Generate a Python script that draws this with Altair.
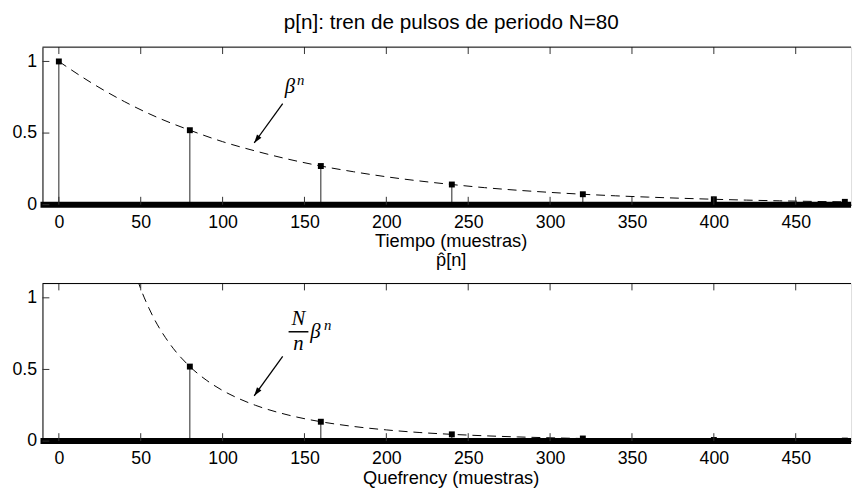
import altair as alt
import pandas as pd

# ---- data ----
x_ticks = [0, 50, 100, 150, 200, 250, 300, 350, 400, 450]
y_ticks = [0, 0.5, 1]

# top panel: impulse train p[n]
top_n = [0, 80, 160, 240, 320, 400, 480]
top_v = [1.0, 0.52, 0.27, 0.141, 0.073, 0.038, 0.020]
# dashed envelope beta^n
env_top_n = [0, 20, 40, 60, 80, 100, 120, 140, 160, 180, 200, 220, 240, 260, 280,
             300, 320, 340, 360, 380, 400, 420, 440, 460, 480]
env_top_v = [1.0, 0.85, 0.72, 0.61, 0.52, 0.44, 0.375, 0.318, 0.27, 0.23, 0.195, 0.166,
             0.141, 0.119, 0.101, 0.086, 0.073, 0.062, 0.053, 0.045, 0.038, 0.032, 0.027,
             0.023, 0.020]

# bottom panel: complex cepstrum p^[n]
bot_n = [80, 160, 240, 320, 400, 480]
bot_v = [0.52, 0.135, 0.047, 0.018, 0.0076, 0.0033]
# dashed envelope (N/n) beta^n
env_bot_n = [48, 50, 55, 60, 65, 70, 80, 90, 100, 110, 120, 140, 160, 180, 200, 220, 240,
             260, 280, 300, 320, 340, 360, 380, 400, 440, 480]
env_bot_v = [1.126, 1.063, 0.928, 0.816, 0.724, 0.645, 0.52, 0.426, 0.353, 0.296, 0.25,
             0.182, 0.135, 0.102, 0.078, 0.060, 0.047, 0.037, 0.029, 0.023, 0.018, 0.015,
             0.012, 0.0095, 0.0076, 0.005, 0.0033]

titles = ["p[n]: tren de pulsos de periodo N=80", "p\u0302[n]"]
xlabels = ["Tiempo (muestras)", "Quefrency (muestras)"]

# ---- layout ----
W, H = 821, 160
FONT = "Liberation Sans"
SERIF = "Liberation Serif"

xscale = alt.Scale(domain=[-10, 483.8], nice=False, zero=False)
yscale = alt.Scale(domain=[0, 1.1], nice=False, zero=False)
xaxis = alt.Axis(values=x_ticks, ticks=False, tickSize=0, labelPadding=9, grid=False,
                 title=None, labelFont=FONT, labelFontSize=18, labelColor="black",
                 domainColor="black", domainWidth=1, labelFlush=False)
yaxis = alt.Axis(values=y_ticks, ticks=False, tickSize=0, labelPadding=6, grid=False,
                 title=None, labelFont=FONT, labelFontSize=18, labelColor="black",
                 domainColor="black", domainWidth=1, labelExpr="datum.value",
                 labelFlush=False)


def X(f):
    return alt.X(f, type="quantitative", scale=xscale, axis=xaxis)


def X2(f):
    return alt.X2(f)


def Y(f):
    return alt.Y(f, type="quantitative", scale=yscale, axis=yaxis)


one = pd.DataFrame({"a": [0]})
ARROW = "M0,0 L-0.32,1 L0.32,1 Z"


def panel(sn, sv, en, ev, title, xlabel, ann, arrow, frac=None, extent=None):
    stems = pd.DataFrame({"n": sn, "v": sv, "z": [0] * len(sn)})
    env = pd.DataFrame({"n": en, "v": ev})
    layers = []
    layers.append(alt.Chart(stems).mark_rule(color="#222", strokeWidth=1).encode(
        x=X("n"), y=Y("z"), y2=alt.Y2("v")))
    layers.append(alt.Chart(one).mark_rule(color="black", strokeWidth=6).encode(
        x=alt.value(-2), x2=alt.value(W), y=alt.value(H)))
    layers.append(alt.Chart(stems).mark_square(color="black", size=36, opacity=1).encode(
        x=X("n"), y=Y("v")))
    layers.append(alt.Chart(env).mark_line(color="black", strokeWidth=1, strokeDash=[9, 6],
                                           interpolate="monotone", clip=True).encode(
        x=X("n"), y=Y("v")))
    # inward ticks and top border
    xt = pd.DataFrame({"t": x_ticks})
    yt = pd.DataFrame({"t": y_ticks})
    layers.append(alt.Chart(xt).mark_rule(color="#333", strokeWidth=1).encode(
        x=X("t"), y=alt.value(0), y2=alt.value(7)))
    layers.append(alt.Chart(xt).mark_rule(color="#333", strokeWidth=1).encode(
        x=X("t"), y=alt.value(H), y2=alt.value(H - 8)))
    layers.append(alt.Chart(yt).mark_rule(color="#333", strokeWidth=1).encode(
        y=Y("t"), x=alt.value(0), x2=alt.value(7)))
    layers.append(alt.Chart(one).mark_rule(color="black", strokeWidth=1).encode(
        x=alt.value(0), x2=alt.value(W), y=alt.value(0)))
    # titles
    if extent == "top":
        tsize, ty = 21, -18
    else:
        tsize, ty = 18.5, -18
    layers.append(alt.Chart(pd.DataFrame({"t": [title]})).mark_text(
        font=FONT, fontSize=tsize, color="black",
        align="center", baseline="alphabetic").encode(
        x=alt.value(415), y=alt.value(ty), text="t:N"))
    layers.append(alt.Chart(pd.DataFrame({"t": [xlabel]})).mark_text(
        font=FONT, fontSize=18.5, color="black", align="center", baseline="alphabetic").encode(
        x=alt.value(415), y=alt.value(H + 43 if extent == "top" else H + 44), text="t:N"))
    # annotation text (math)
    a = pd.DataFrame(ann)
    for i in range(len(a)):
        row = a.iloc[[i]]
        layers.append(alt.Chart(row).mark_text(
            font=SERIF, fontStyle="italic", fontSize=float(row["s"].iloc[0]), color="black",
            align=row["al"].iloc[0], baseline="alphabetic").encode(
            x=X("x"), y=Y("y"), text="t:N"))
    if frac is not None:
        layers.append(alt.Chart(pd.DataFrame(frac)).mark_rule(color="black", strokeWidth=1.5).encode(
            x=X("x"), x2=X2("x2"), y=Y("y")))
    ar = pd.DataFrame(arrow)
    layers.append(alt.Chart(ar).mark_rule(color="black", strokeWidth=1.3).encode(
        x=X("x"), y=Y("y"), x2=X2("x2"), y2=alt.Y2("y2")))
    layers.append(alt.Chart(ar).mark_point(shape=ARROW, filled=True, color="black",
                                           size=300, angle=216, opacity=1).encode(
        x=X("x2"), y=Y("y2")))
    # invisible extent markers
    if extent == "top":
        layers.append(alt.Chart(one).mark_rule(strokeOpacity=0, strokeWidth=0.01).encode(
            x=alt.value(-34), x2=alt.value(W), y=alt.value(-35)))
    else:
        layers.append(alt.Chart(one).mark_rule(strokeOpacity=0, strokeWidth=0.01).encode(
            x=alt.value(-34), x2=alt.value(W), y=alt.value(H + 48)))
    return alt.layer(*layers).properties(width=W, height=H)


ann_top = {"x": [137.9, 145.4], "y": [0.782, 0.837], "t": ["\u03b2", "n"],
           "s": [21, 15], "al": ["left", "left"]}
arrow_top = {"x": [136.7], "y": [0.706], "x2": [119.3], "y2": [0.431]}

ann_bot = {"x": [146.3, 146.3, 153.6, 162.0], "y": [0.809, 0.637, 0.720, 0.775],
           "t": ["N", "n", "\u03b2", "n"], "s": [21, 21, 21, 15],
           "al": ["center", "center", "left", "left"]}
frac_bot = {"x": [140.3], "x2": [152.4], "y": [0.763]}
arrow_bot = {"x": [136.7], "y": [0.591], "x2": [119.3], "y2": [0.316]}

top = panel(top_n, top_v, env_top_n, env_top_v, titles[0], xlabels[0], ann_top, arrow_top,
            extent="top")
bottom = panel(bot_n, bot_v, env_bot_n, env_bot_v, titles[1], xlabels[1], ann_bot, arrow_bot,
               frac=frac_bot, extent="bottom")

chart = alt.vconcat(top, bottom, spacing=80, bounds="flush").properties(
    padding={"left": 0, "top": 0, "right": 0, "bottom": 0}
).configure_view(stroke=None).configure(background="white")

chart.save("out.html", embed_options={"renderer": "svg", "actions": False})
